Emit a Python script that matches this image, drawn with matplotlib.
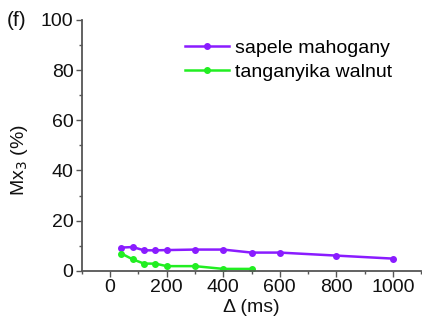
import matplotlib
matplotlib.use("Agg")
import matplotlib.pyplot as plt
from matplotlib.ticker import MultipleLocator

plt.rcParams['font.family'] = ['Liberation Sans', 'DejaVu Sans']

delta_sapele = [40, 80, 120, 160, 200, 300, 400, 500, 600, 800, 1000]
mx3_sapele = [9.3, 9.5, 8.2, 8.2, 8.3, 8.5, 8.5, 7.3, 7.3, 6.1, 4.9]
delta_tang = [40, 80, 120, 160, 200, 300, 400, 500]
mx3_tang = [6.9, 4.6, 2.9, 2.9, 1.9, 1.9, 0.8, 0.8]
series_names = ["sapele mahogany", "tanganyika walnut"]

fs = 14
fig = plt.figure(figsize=(4.22, 3.26), dpi=100)
ax = fig.add_axes([0.194, 0.169, 0.804, 0.77])

ax.plot(delta_sapele, mx3_sapele, color='#8a1cff', marker='o', markersize=4,
        linewidth=1.8, label=series_names[0])
ax.plot(delta_tang, mx3_tang, color='#22ee22', marker='o', markersize=4,
        linewidth=1.8, label=series_names[1])

ax.set_xlim(-100, 1100)
ax.set_ylim(0, 100)
ax.xaxis.set_major_locator(MultipleLocator(200))
ax.xaxis.set_minor_locator(MultipleLocator(100))
ax.yaxis.set_major_locator(MultipleLocator(20))
ax.yaxis.set_minor_locator(MultipleLocator(10))

for s in ['top', 'right']:
    ax.spines[s].set_visible(False)
for s in ['left', 'bottom']:
    ax.spines[s].set_color('#555555')
    ax.spines[s].set_linewidth(1.3)
ax.tick_params(which='major', direction='out', length=4, width=1, color='#555555',
               labelsize=fs, pad=2, labelcolor='#111111')
ax.tick_params(which='minor', direction='out', length=2.5, width=1, color='#555555')

ax.set_xlabel('Δ (ms)', fontsize=fs, labelpad=2, color='#111111')
ax.set_ylabel('Mx$_3$ (%)', fontsize=fs, color='#111111')
ax.yaxis.set_label_coords(-0.153, 0.44)

ax.legend(loc='upper left', bbox_to_anchor=(0.282, 0.955), frameon=False,
          fontsize=fs, handlelength=2.25, handletextpad=0.3, labelspacing=0.35,
          borderaxespad=0)

fig.text(0.015, 0.937, '(f)', fontsize=15, ha='left', va='center', color='#111111')

fig.savefig('out.png', dpi=100)
